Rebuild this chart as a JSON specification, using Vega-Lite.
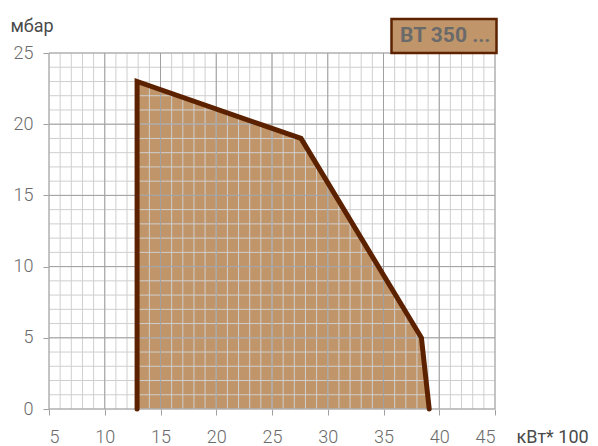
{
  "$schema": "https://vega.github.io/schema/vega-lite/v6.json",
  "width": 446,
  "height": 356,
  "autosize": {"type": "none"},
  "padding": {"left": 49, "top": 53, "right": 103, "bottom": 37},
  "background": "white",
  "config": {
    "font": "Roboto",
    "view": {"stroke": null},
    "axis": {"grid": false}
  },
  "datasets": {
    "poly": [
      {"kw": 12.9, "mbar": 0, "o": 1, "model": "BT 350 ..."},
      {"kw": 12.9, "mbar": 23, "o": 2, "model": "BT 350 ..."},
      {"kw": 27.6, "mbar": 19, "o": 3, "model": "BT 350 ..."},
      {"kw": 38.4, "mbar": 5, "o": 4, "model": "BT 350 ..."},
      {"kw": 39.1, "mbar": 0, "o": 5, "model": "BT 350 ..."}
    ],
    "gx": [
      {"v": 5}, {"v": 6}, {"v": 7}, {"v": 8}, {"v": 9}, {"v": 10}, {"v": 11}, {"v": 12}, {"v": 13}, {"v": 14},
      {"v": 15}, {"v": 16}, {"v": 17}, {"v": 18}, {"v": 19}, {"v": 20}, {"v": 21}, {"v": 22}, {"v": 23}, {"v": 24},
      {"v": 25}, {"v": 26}, {"v": 27}, {"v": 28}, {"v": 29}, {"v": 30}, {"v": 31}, {"v": 32}, {"v": 33}, {"v": 34},
      {"v": 35}, {"v": 36}, {"v": 37}, {"v": 38}, {"v": 39}, {"v": 40}, {"v": 41}, {"v": 42}, {"v": 43}, {"v": 44}, {"v": 45}
    ],
    "gy": [
      {"v": 0}, {"v": 1}, {"v": 2}, {"v": 3}, {"v": 4}, {"v": 5}, {"v": 6}, {"v": 7}, {"v": 8}, {"v": 9},
      {"v": 10}, {"v": 11}, {"v": 12}, {"v": 13}, {"v": 14}, {"v": 15}, {"v": 16}, {"v": 17}, {"v": 18}, {"v": 19},
      {"v": 20}, {"v": 21}, {"v": 22}, {"v": 23}, {"v": 24}, {"v": 25}
    ]
  },
  "layer": [
    {
      "data": {"name": "poly"},
      "transform": [{"filter": "datum.o >= 2"}],
      "mark": {"type": "area", "opacity": 1},
      "encoding": {
        "x": {
          "field": "kw", "type": "quantitative",
          "scale": {"domain": [5, 45], "nice": false, "zero": false},
          "axis": {
            "values": [5, 10, 15, 20, 25, 30, 35, 40, 45],
            "domain": false,
            "tickSize": 6, "tickColor": "#a0a0a0", "tickWidth": 1,
            "labelFontSize": 18, "labelColor": "#6a6a6a", "labelPadding": 13,
            "labelFontWeight": 300,
            "title": "кВт* 100", "titleFontSize": 18, "titleFontWeight": "normal", "titleColor": "#4a4a4a",
            "titleAlign": "left", "titleAnchor": "start", "titleX": 467, "titleY": 33, "titleBaseline": "alphabetic"
          }
        },
        "y": {
          "field": "mbar", "type": "quantitative",
          "scale": {"domain": [0, 25], "nice": false},
          "axis": {
            "values": [0, 5, 10, 15, 20, 25],
            "domain": false,
            "tickSize": 6, "tickColor": "#a0a0a0", "tickWidth": 1,
            "labelFontSize": 18, "labelColor": "#6a6a6a", "labelPadding": 10,
            "labelFontWeight": 300,
            "title": "мбар", "titleFontSize": 18, "titleFontWeight": "normal", "titleColor": "#4a4a4a",
            "titleAngle": 0, "titleAlign": "left", "titleAnchor": "start", "titleX": -39, "titleY": -22, "titleBaseline": "alphabetic"
          }
        },
        "fill": {
          "field": "model", "type": "nominal",
          "scale": {"range": ["#c0956a"]},
          "legend": {
            "title": null,
            "orient": "none",
            "legendX": 341,
            "legendY": -71,
            "padding": 0,
            "symbolType": "M-1,-0.324H1V0.324H-1Z",
            "symbolSize": 11025,
            "symbolStrokeColor": "#5c2200",
            "symbolStrokeWidth": 2.5,
            "symbolOpacity": 1,
            "labelOffset": -98,
            "labelFontSize": 21,
            "labelFontWeight": "bold",
            "labelColor": "#6a6a6a"
          }
        }
      }
    },
    {
      "data": {"name": "gx"},
      "mark": {"type": "rule", "color": "#cfcfcf", "strokeWidth": 1},
      "encoding": {"x": {"field": "v", "type": "quantitative"}}
    },
    {
      "data": {"name": "gy"},
      "mark": {"type": "rule", "color": "#cfcfcf", "strokeWidth": 1},
      "encoding": {"y": {"field": "v", "type": "quantitative"}}
    },
    {
      "data": {"name": "gx"},
      "transform": [{"filter": "datum.v % 5 == 0"}],
      "mark": {"type": "rule", "color": "#a0a0a0", "strokeWidth": 1},
      "encoding": {"x": {"field": "v", "type": "quantitative"}}
    },
    {
      "data": {"name": "gy"},
      "transform": [{"filter": "datum.v % 5 == 0"}],
      "mark": {"type": "rule", "color": "#a0a0a0", "strokeWidth": 1},
      "encoding": {"y": {"field": "v", "type": "quantitative"}}
    },
    {
      "data": {"name": "poly"},
      "mark": {"type": "line", "color": "#5c2200", "strokeWidth": 5, "strokeJoin": "miter", "strokeCap": "round", "clip": false},
      "encoding": {
        "x": {"field": "kw", "type": "quantitative"},
        "y": {"field": "mbar", "type": "quantitative"},
        "order": {"field": "o", "type": "quantitative"}
      }
    }
  ]
}
